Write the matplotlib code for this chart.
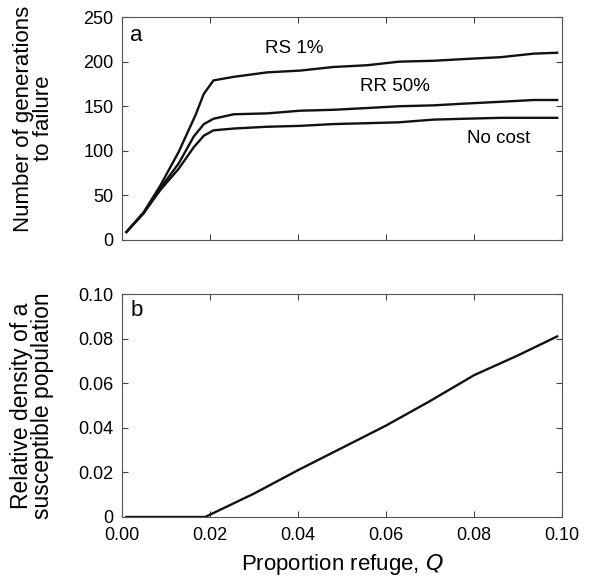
import numpy as np
import matplotlib.pyplot as plt

plt.rcParams['font.family'] = ['Liberation Sans', 'DejaVu Sans']

# panel a : generations to failure
q_rs = [0.001, 0.0049, 0.0087, 0.0129, 0.0167, 0.0186, 0.0208, 0.0254, 0.033, 0.0405,
        0.048, 0.0557, 0.063, 0.0708, 0.078, 0.086, 0.0936, 0.0989]
gen_rs = [9, 31, 61, 99, 140, 164, 179, 183, 188, 190, 194, 196, 200, 201, 203, 205, 209, 210]

q_rr = [0.001, 0.0049, 0.0087, 0.0129, 0.0163, 0.0186, 0.0208, 0.0254, 0.033, 0.0405,
        0.048, 0.0557, 0.063, 0.0708, 0.078, 0.086, 0.0936, 0.0989]
gen_rr = [9, 30, 58, 86, 116, 130, 136, 141, 142, 145, 146, 148, 150, 151, 153, 155, 157, 157]

q_nc = [0.001, 0.0049, 0.0087, 0.0129, 0.0163, 0.0186, 0.0208, 0.0254, 0.033, 0.0405,
        0.048, 0.0557, 0.063, 0.0708, 0.078, 0.086, 0.0989]
gen_nc = [9, 30, 56, 80, 104, 117, 123, 125, 127, 128, 130, 131, 132, 135, 136, 137, 137]

# panel b : relative density of susceptibles
q_b = [0.001, 0.0189, 0.03, 0.04, 0.05, 0.06, 0.07, 0.08, 0.09, 0.0989]
dens_b = [0, 0, 0.0105, 0.021, 0.031, 0.041, 0.052, 0.0636, 0.0725, 0.081]

xticks = [0, 0.02, 0.04, 0.06, 0.08, 0.10]
xlabels = ['0.00', '0.02', '0.04', '0.06', '0.08', '0.10']
yticks_a = [0, 50, 100, 150, 200, 250]
yticks_b = [0, 0.02, 0.04, 0.06, 0.08, 0.10]
ylabels_b = ['0', '0.02', '0.04', '0.06', '0.08', '0.10']

fig = plt.figure(figsize=(5.94, 5.79), dpi=100)
ax1 = fig.add_axes([0.2054, 0.5855, 0.7407, 0.385])
ax2 = fig.add_axes([0.2054, 0.1071, 0.7407, 0.385])

for ax in (ax1, ax2):
    ax.tick_params(direction='in', top=True, right=True, length=4, width=0.8,
                   labelsize=13, color='#444444')
    ax.tick_params(axis='x', pad=7)
    ax.tick_params(axis='y', pad=6)
    for s in ax.spines.values():
        s.set_linewidth(0.8)
        s.set_color('#555555')
    ax.set_xlim(0, 0.1)
    ax.set_xticks(xticks)

ax1.plot(q_rs, gen_rs, color='#111111', lw=1.7)
ax1.plot(q_rr, gen_rr, color='#111111', lw=1.7)
ax1.plot(q_nc, gen_nc, color='#111111', lw=1.7)
ax1.set_ylim(0, 250)
ax1.set_yticks(yticks_a)
ax1.set_xticklabels([])
ax1.set_ylabel('Number of generations\nto failure', fontsize=16, linespacing=0.9)
ax1.yaxis.set_label_coords(-0.155, 0.545)
ax1.text(0.0326, 215, 'RS 1%', fontsize=13.5, va='center')
ax1.text(0.0542, 172, 'RR 50%', fontsize=13.5, va='center')
ax1.text(0.0784, 114, 'No cost', fontsize=13.5, va='center')
ax1.text(0.0019, 229, 'a', fontsize=16, va='center')

ax2.plot(q_b, dens_b, color='#111111', lw=1.7)
ax2.set_ylim(0, 0.1)
ax2.set_yticks(yticks_b)
ax2.set_yticklabels(ylabels_b)
ax2.set_xticklabels(xlabels)
ax2.set_ylabel('Relative density of a\nsusceptible population', fontsize=16.5, linespacing=0.9)
ax2.yaxis.set_label_coords(-0.155, 0.5)
ax2.set_xlabel('Proportion refuge, $\\mathit{Q}$', fontsize=16)
ax2.xaxis.set_label_coords(0.5, -0.155)
ax2.text(0.0019, 0.0928, 'b', fontsize=16, va='center')

fig.savefig('out.png', dpi=100)
